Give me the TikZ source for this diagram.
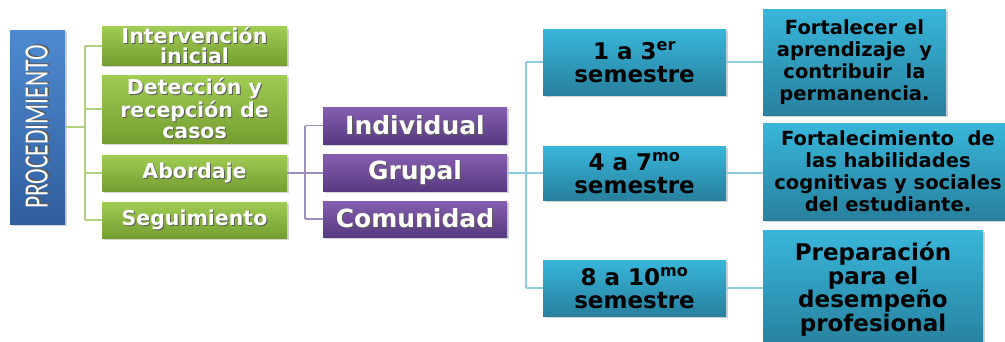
\documentclass[tikz,border=0pt]{standalone}
\usepackage{fontspec}
\usepackage{graphicx}
\setmainfont{DejaVu Sans}
\newfontfamily\carl{Carlito}
\usetikzlibrary{shadows}
\definecolor{pTop}{RGB}{78,138,208}
\definecolor{pBot}{RGB}{48,94,158}
\definecolor{gTop}{RGB}{160,204,84}
\definecolor{gBot}{RGB}{116,158,48}
\definecolor{vTop}{RGB}{132,94,176}
\definecolor{vBot}{RGB}{88,58,128}
\definecolor{aTop}{RGB}{56,182,218}
\definecolor{aBot}{RGB}{40,128,158}
\definecolor{gLine}{RGB}{178,208,130}
\definecolor{vLine}{RGB}{160,140,190}
\definecolor{aLine}{RGB}{140,206,224}
\newcommand\wsh[1]{\leavevmode\rlap{\kern1pt\raisebox{-1pt}{\textcolor{black!65}{#1}}}#1}
\tikzset{
  box/.style={inner sep=0pt, align=center,
    drop shadow={shadow xshift=1.5pt, shadow yshift=-1.8pt, opacity=0.35}},
  pbox/.style={box, top color=pTop, bottom color=pBot, minimum width=55pt, minimum height=194pt, text=white},
  gbox/.style={box, top color=gTop, bottom color=gBot, minimum width=185pt, text=white,
    font=\bfseries\fontsize{20.5}{20.5}\selectfont},
  vbox/.style={box, top color=vTop, bottom color=vBot, minimum width=184pt, minimum height=37pt, text=white,
    font=\bfseries\fontsize{25}{25}\selectfont},
  abox/.style={box, top color=aTop, bottom color=aBot, minimum width=183pt, text=black,
    font=\bfseries\fontsize{23}{23}\selectfont},
  rbox/.style={box, top color=aTop, bottom color=aBot, text=black},
  glink/.style={gLine, line width=1.2pt},
  vlink/.style={vLine, line width=1.2pt},
  alink/.style={aLine, line width=1.2pt},
}
\begin{document}
\begin{tikzpicture}[x=1pt,y=1pt]
\useasboundingbox (0,0) rectangle (1005,-341);
% level 0
\node[pbox] (proc) at (37.5,-127) {\rotatebox{90}{\scalebox{1}[1.45]{\carl\fontsize{23.5}{23.5}\selectfont\wsh{PROCEDIMIENTO}}}};
% level 1
\node[gbox, minimum height=38pt] (g1) at (194.5,-46) {\wsh{Intervención}\\\wsh{inicial}};
\node[gbox, minimum height=68pt] (g2) at (194.5,-109) {\wsh{Detección y}\\\wsh{recepción de}\\\wsh{casos}};
\node[gbox, minimum height=36pt] (g3) at (194.5,-173) {\wsh{Abordaje}};
\node[gbox, minimum height=36pt] (g4) at (194.5,-220) {\wsh{Seguimiento}};
% level 2
\node[vbox] (v1) at (415,-125.5) {\wsh{Individual}};
\node[vbox] (v2) at (415,-173) {\wsh{Grupal}};
\node[vbox, minimum height=36pt] (v3) at (415,-219) {\wsh{Comunidad}};
% level 3
\node[abox, minimum height=66pt] (a1) at (634.5,-62) {1 a 3\textsuperscript{er}\\semestre};
\node[abox, minimum height=54pt] (a2) at (634.5,-173) {4 a 7\textsuperscript{mo}\\semestre};
\node[abox, minimum height=56pt] (a3) at (634.5,-288) {8 a 10\textsuperscript{mo}\\semestre};
% level 4
\node[rbox, minimum width=183pt, minimum height=106pt, font=\bfseries\fontsize{19.5}{22}\selectfont] (r1) at (854.5,-62)
  {Fortalecer el\\aprendizaje\ \ y\\contribuir\ \ la\\permanencia.};
\node[rbox, minimum width=250pt, minimum height=97pt, font=\bfseries\fontsize{19.5}{22}\selectfont] (r2) at (888,-171.5)
  {Fortalecimiento\ \ de\\las habilidades\\cognitivas y sociales\\del estudiante.};
\node[rbox, minimum width=220pt, minimum height=118pt, font=\bfseries\fontsize{23}{23.5}\selectfont] (r3) at (873,-289)
  {Preparación\\para el\\desempeño\\profesional};
% connectors
\coordinate (t1) at (85,0);
\coordinate (t2) at (305,0);
\coordinate (t3) at (526,0);
\draw[glink] (proc.east) -- (proc.east -| t1);
\draw[glink] (g1.west -| t1) -- (g4.west -| t1);
\foreach \g in {g1,g2,g3,g4} \draw[glink] (\g.west -| t1) -- (\g.west);
\draw[vlink] (g3.east) -- (g3.east -| t2);
\draw[vlink] (v1.west -| t2) -- (v3.west -| t2);
\foreach \v in {v1,v2,v3} \draw[vlink] (\v.west -| t2) -- (\v.west);
\draw[alink] (v2.east) -- (v2.east -| t3);
\draw[alink] (a1.west -| t3) -- (a3.west -| t3);
\foreach \a in {a1,a2,a3} \draw[alink] (\a.west -| t3) -- (\a.west);
\draw[alink] (a1.east) -- (a1.east -| r1.west);
\draw[alink] (a2.east) -- (a2.east -| r2.west);
\draw[alink] (a3.east) -- (a3.east -| r3.west);
\end{tikzpicture}
\end{document}
